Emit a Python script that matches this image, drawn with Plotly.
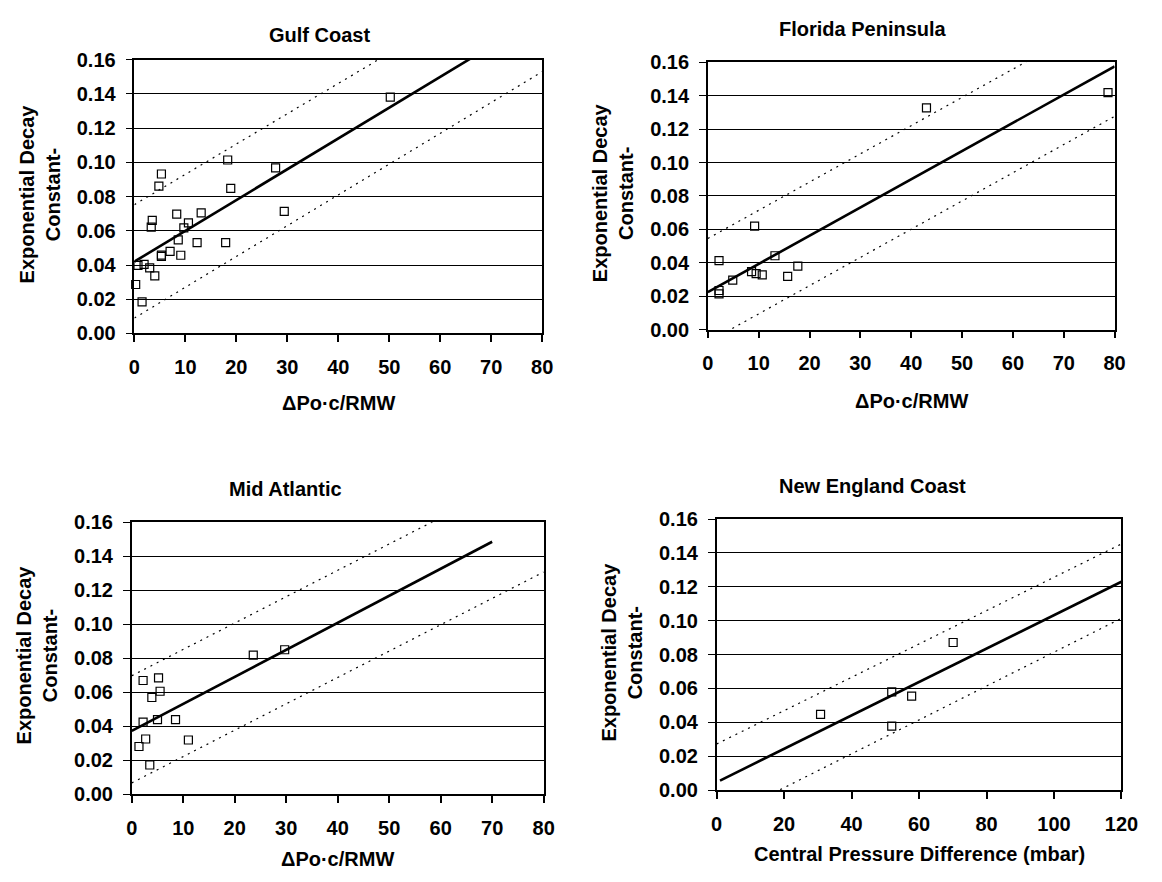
import plotly.graph_objects as go

W, H = 1162, 882

# ---------------- data ----------------
# Gulf Coast
gulf_x = [0.25, 0.7, 1.5, 1.9, 3.0, 3.3, 3.5, 4.0, 4.8, 5.3, 5.3, 5.3, 7.0, 8.3, 8.6,
          9.1, 9.7, 10.6, 12.3, 13.1, 17.9, 18.3, 18.9, 27.7, 29.4, 50.2]
gulf_y = [0.0286, 0.0398, 0.0185, 0.0404, 0.0383, 0.0621, 0.0661, 0.0337, 0.0861, 0.0932,
          0.0458, 0.0450, 0.0480, 0.0697, 0.0547, 0.0457, 0.0617, 0.0646, 0.0531, 0.0705,
          0.0531, 0.1014, 0.0848, 0.0968, 0.0714, 0.1381]
gulf_fit_x = [0, 66]
gulf_fit_y = [0.042, 0.1608]
gulf_hi_x = [0, 48]
gulf_hi_y = [0.0753, 0.1603]
gulf_lo_x = [0, 80]
gulf_lo_y = [0.009, 0.153]

# Florida Peninsula
fl_x = [2.2, 2.2, 2.2, 4.9, 8.6, 9.2, 9.5, 10.7, 13.2, 15.7, 17.7, 43.0, 78.7]
fl_y = [0.0413, 0.0234, 0.0214, 0.0296, 0.0347, 0.0619, 0.0335, 0.0327, 0.0442, 0.0319,
        0.0380, 0.1328, 0.1419]
fl_fit_x = [0, 80]
fl_fit_y = [0.0224, 0.1576]
fl_hi_x = [0, 65]
fl_hi_y = [0.0545, 0.1644]
fl_lo_x = [0, 80]
fl_lo_y = [-0.0075, 0.1277]

# Mid Atlantic
ma_x = [1.4, 2.2, 2.2, 2.7, 3.5, 3.9, 5.0, 5.2, 5.5, 8.5, 11.0, 23.6, 29.7]
ma_y = [0.0281, 0.0669, 0.0424, 0.0325, 0.0172, 0.0569, 0.0439, 0.0684, 0.0606, 0.0439,
        0.0319, 0.0818, 0.0850]
ma_fit_x = [0, 70]
ma_fit_y = [0.0373, 0.1485]
ma_hi_x = [0, 60]
ma_hi_y = [0.0697, 0.1627]
ma_lo_x = [0, 80]
ma_lo_y = [0.0067, 0.1307]

# New England Coast
ne_x = [30.8, 51.9, 51.9, 57.8, 70.1]
ne_y = [0.0447, 0.0580, 0.0378, 0.0554, 0.0871]
ne_fit_x = [1, 120]
ne_fit_y = [0.0056, 0.123]
ne_hi_x = [0, 120]
ne_hi_y = [0.0272, 0.1453]
ne_lo_x = [17, 120]
ne_lo_y = [-0.0016, 0.1014]

titles = ["Gulf Coast", "Florida Peninsula", "Mid Atlantic", "New England Coast"]
x_titles = ["ΔPo·c/RMW", "ΔPo·c/RMW", "ΔPo·c/RMW", "Central Pressure Difference (mbar)"]
y_title = "Exponential Decay<br>Constant-"
y_ticks = [0, 0.02, 0.04, 0.06, 0.08, 0.10, 0.12, 0.14, 0.16]

panels = [
    (gulf_x, gulf_y, gulf_fit_x, gulf_fit_y, gulf_hi_x, gulf_hi_y, gulf_lo_x, gulf_lo_y, 80, 10),
    (fl_x, fl_y, fl_fit_x, fl_fit_y, fl_hi_x, fl_hi_y, fl_lo_x, fl_lo_y, 80, 10),
    (ma_x, ma_y, ma_fit_x, ma_fit_y, ma_hi_x, ma_hi_y, ma_lo_x, ma_lo_y, 80, 10),
    (ne_x, ne_y, ne_fit_x, ne_fit_y, ne_hi_x, ne_hi_y, ne_lo_x, ne_lo_y, 120, 20),
]

# ---------------- layout geometry (pixels) ----------------
# left, right, top, bottom
boxes = [
    (131, 547, 50, 330.7),
    (716, 1131, 52.7, 326.7),
    (128.3, 548.5, 524.3, 803.3),
    (725, 1138, 521, 799),
]
title_pos = [(320, 25), (874, 18), (285.5, 490), (884, 487)]
xtitle_off = [71, 73, 66, 66]

FONT = "Liberation Sans, Arial, sans-serif"
FS = 20

fig = go.Figure()
layout = dict(
    width=W, height=H,
    margin=dict(l=0, r=0, t=0, b=0),
    paper_bgcolor="white", plot_bgcolor="white",
    showlegend=False,
    font=dict(family=FONT, size=FS, color="black", weight="bold"),
)
annotations = []

for i, (px, py, fx, fy, hx, hy, lx, ly, xmax, dx) in enumerate(panels):
    n = "" if i == 0 else str(i + 1)
    xa, ya = "x" + n, "y" + n
    l, r, t, b = boxes[i]

    # prediction-band dotted lines
    for bx, by in ((hx, hy), (lx, ly)):
        fig.add_trace(go.Scatter(x=bx, y=by, mode="lines", xaxis=xa, yaxis=ya,
                                 line=dict(color="black", width=1.2, dash="2px,5px"),
                                 hoverinfo="skip"))
    # regression line
    fig.add_trace(go.Scatter(x=fx, y=fy, mode="lines", xaxis=xa, yaxis=ya,
                             line=dict(color="black", width=2.6)))
    # data points
    fig.add_trace(go.Scatter(x=px, y=py, mode="markers", xaxis=xa, yaxis=ya,
                             marker=dict(symbol="square-open", size=8, color="black",
                                         line=dict(width=1.2, color="black")),
                             cliponaxis=False))

    layout["xaxis" + n] = dict(
        domain=[l / W, r / W], anchor=ya, range=[0, xmax], dtick=dx, tick0=0,
        showgrid=False, zeroline=False, showline=True, linecolor="black", linewidth=1.5,
        mirror=True, ticks="outside", ticklen=7, tickwidth=1.5, tickcolor="black",
        tickfont=dict(family=FONT, size=FS, color="black", weight="bold"),
        ticklabelstandoff=8,
    )
    layout["yaxis" + n] = dict(
        domain=[1 - b / H, 1 - t / H], anchor=xa, range=[0, 0.16], tickvals=y_ticks,
        tickformat=".2f", showgrid=True, gridcolor="black", gridwidth=1,
        zeroline=False, showline=True, linecolor="black", linewidth=1.5, mirror=True,
        ticks="outside", ticklen=7, tickwidth=1.2, tickcolor="black",
        tickfont=dict(family=FONT, size=FS, color="black", weight="bold"),
        ticklabelstandoff=6,
    )

    tx, ty = title_pos[i]
    annotations.append(dict(text=titles[i], x=tx / W, y=1 - ty / H, xref="paper", yref="paper",
                            xanchor="center", yanchor="middle", showarrow=False,
                            font=dict(family=FONT, size=FS, color="black", weight="bold")))
    annotations.append(dict(text=x_titles[i], x=(l + r) / 2 / W, y=1 - (b + xtitle_off[i]) / H,
                            xref="paper", yref="paper", xanchor="center", yanchor="middle",
                            showarrow=False,
                            font=dict(family=FONT, size=FS, color="black", weight="bold")))
    annotations.append(dict(text=y_title, x=(l - 96.6) / W, y=1 - ((t + b) / 2 - 3) / H,
                            xref="paper", yref="paper", xanchor="center", yanchor="middle",
                            textangle=-90, showarrow=False,
                            font=dict(family=FONT, size=FS, color="black", weight="bold")))

layout["annotations"] = annotations
fig.update_layout(**layout)
fig.write_html("out.html")
